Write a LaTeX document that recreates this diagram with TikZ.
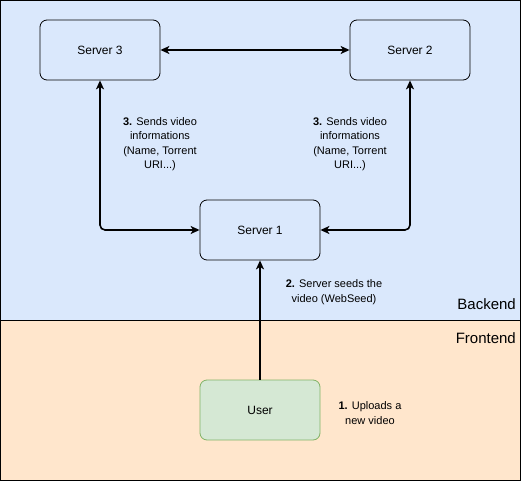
\documentclass[tikz,border=0pt]{standalone}
\usepackage{fontspec}
\setmainfont{Liberation Sans}
\usetikzlibrary{arrows.meta}
\definecolor{backfill}{HTML}{DAE8FC}
\definecolor{frontfill}{HTML}{FFE6CC}
\definecolor{userfill}{HTML}{D5E8D4}
\definecolor{userline}{HTML}{82B366}
\tikzset{
  srv/.style={draw=black, line width=0.8pt, rounded corners=7pt, minimum width=120pt, minimum height=60pt, inner sep=0pt, font=\fontsize{12}{14}\selectfont},
  conn/.style={line width=1.6pt, rounded corners=5pt, -{Stealth[length=9pt,width=8pt,inset=2.5pt]}},
  bconn/.style={line width=1.6pt, rounded corners=5pt, {Stealth[length=9pt,width=8pt,inset=2.5pt]}-{Stealth[length=9pt,width=8pt,inset=2.5pt]}},
  lbl/.style={align=center, inner sep=0pt, font=\fontsize{11}{14.5}\selectfont},
  zone/.style={inner sep=0pt, anchor=east, font=\fontsize{15}{17}\selectfont}
}
\begin{document}
\begin{tikzpicture}[x=1pt,y=-1pt]
\useasboundingbox (0,0) rectangle (521,481);
\fill[backfill] (0,0) rectangle (520,320);
\fill[frontfill] (0,320) rectangle (520,480);
\draw[line width=0.8pt] (0.5,0.5) rectangle (520.5,480.5);
\draw[line width=0.8pt] (0.5,320) -- (520.5,320);
\node[zone] (backend) at (516,304) {Backend};
\node[zone] (frontend) at (516,338) {Frontend};

\node[srv] (s3) at (100,50) {Server 3};
\node[srv] (s2) at (410,50) {Server 2};
\node[srv] (s1) at (260,230) {Server 1};
\node[srv, draw=userline, fill=userfill] (user) at (260,410) {User};

\draw[bconn] (s3.east) -- (s2.west);
\draw[bconn] (s3.south) |- (s1.west);
\draw[bconn] (s2.south) |- (s1.east);
\draw[conn] (user.north) -- (s1.south);

\node[lbl] (l3a) at (160,144) {\textbf{3.} Sends video\\informations\\(Name, Torrent\\URI...)};
\node[lbl] (l3b) at (350,144) {\textbf{3.} Sends video\\informations\\(Name, Torrent\\URI...)};
\node[lbl] (l2) at (334,292) {\textbf{2.} Server seeds the\\video (WebSeed)};
\node[lbl] (l1) at (370,413) {\textbf{1.} Uploads a\\new video};
\end{tikzpicture}
\end{document}
